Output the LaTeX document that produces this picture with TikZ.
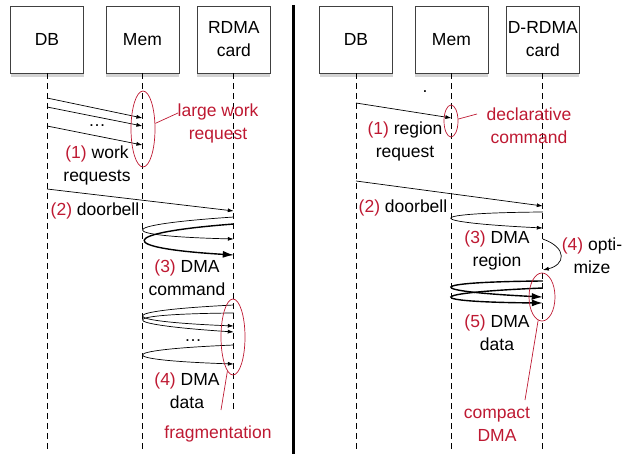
\documentclass[tikz,border=0pt]{standalone}
\usepackage{fontspec}
\setmainfont{Liberation Sans}
\usepackage{tikz}
\usetikzlibrary{positioning}
\usetikzlibrary{arrows.meta,shapes.geometric,shadows}
\definecolor{annot}{RGB}{190,25,50}

\begin{document}
\begin{tikzpicture}[x=1pt,y=-1pt,
    every node/.style={font=\fontsize{17.5}{23}\selectfont},
    actor/.style={draw=black!75,fill=white,minimum width=73pt,minimum height=67pt,inner sep=1pt,align=center,
      drop shadow={shadow xshift=0pt,shadow yshift=-4pt,opacity=.35}},
    lifeline/.style={dash pattern=on 6pt off 4pt,line width=.7pt},
    msg/.style={line width=.7pt,-{Latex[length=6pt,width=4pt]}},
    bigmsg/.style={line width=1.4pt,-{Latex[length=11pt,width=7pt]}},
    ring/.style={draw=annot,ellipse,inner sep=0pt,line width=.7pt},
    pointer/.style={draw=annot,line width=.7pt},
    txt/.style={align=center,inner sep=1pt}]
          \useasboundingbox (0,0) rectangle (631,454);

          \node[actor] (DBL) at (47,39.5) {DB};
          \node[actor,right=22pt of DBL] (MemL) {Mem};
          \node[actor,right=18pt of MemL] (CardL) {RDMA\\card};

          \node[actor] (DBR) at (356,39.5) {DB};
          \node[actor,right=22pt of DBR] (MemR) {Mem};
          \node[actor,right=18pt of MemR] (CardR) {D-RDMA\\card};

          \draw[lifeline] (DBL) -- (DBL |- 0,449);
          \draw[lifeline] (MemL) -- (MemL |- 0,449);
          \draw[lifeline] (CardL) -- (CardL |- 0,410);
          \draw[lifeline] (DBR) -- (DBR |- 0,449);
          \draw[lifeline] (MemR) -- (MemR |- 0,449);
          \draw[lifeline] (CardR) -- (CardR |- 0,449);

          \draw[line width=3pt] (293,5) -- (293,454);

          % RDMA
          \draw[msg] (DBL |- 0,98) -- (MemL |- 0,118);
          \draw[msg] (DBL |- 0,107) -- (MemL |- 0,126);
          \draw[msg] (DBL |- 0,126) -- (MemL |- 0,145);
          \node (dotsL1) at (97,126) {\dots};
          \draw[msg] (DBL |- 0,189) -- (CardL |- 0,211);
          \draw[msg] (CardL |- 0,217) .. controls (113,225) and (113,236) .. (CardL |- 0,239);
          \draw[bigmsg] (CardL |- 0,224) .. controls (116,233) and (116,248) .. (CardL |- 0,255);
          \draw[msg] (CardL |- 0,305) .. controls (113,311) and (113,321) .. (CardL |- 0,326);
          \draw[msg] (CardL |- 0,313) .. controls (113,314) and (113,324) .. (CardL |- 0,332);
          \node (dotsL2) at (193,341) {\dots};
          \draw[msg] (CardL |- 0,345) .. controls (113,350) and (113,360) .. (CardL |- 0,364);

          \node[txt] (reqL) at (97,165) {\textcolor{annot}{(1)} work\\requests};
          \node[txt] (bellL) at (95,211) {\textcolor{annot}{(2)} doorbell};
          \node[txt] (cmdL) at (187,278) {\textcolor{annot}{(3)} DMA\\command};
          \node[txt] (dataL) at (187,391) {\textcolor{annot}{(4)} DMA\\data};
          \node[txt,annot] (largeL) at (218,123) {large work\\request};
          \node[txt,annot] (fragL) at (218,434) {fragmentation};

          \node[ring,minimum width=24pt,minimum height=76pt] (ringL1) at (143,129) {};
          \node[ring,minimum width=24pt,minimum height=76pt] (ringL2) at (233,337) {};
          \coordinate (tipL1) at (178,113);
          \coordinate (tipL2) at (221,410);
          \draw[pointer] (ringL1) -- (tipL1);
          \draw[pointer] (ringL2) -- (tipL2);

          % D-RDMA
          \node[inner sep=0pt] (dotR) at (425,92) {.};
          \draw[msg] (DBR |- 0,103) -- (MemR |- 0,118);
          \draw[msg] (DBR |- 0,181) -- (CardR |- 0,206);
          \draw[msg] (CardR |- 0,212) .. controls (421,213) and (421,222) .. (CardR |- 0,228);
          \draw[msg] (CardR |- 0,239) .. controls (568,248) and (565,265) .. (CardR |- 0,270);
          \draw[bigmsg] (CardR |- 0,281) .. controls (422,282) and (422,291) .. (CardR |- 0,297);
          \draw[bigmsg] (CardR |- 0,288) .. controls (422,293) and (422,302) .. (CardR |- 0,303);

          \node[txt] (reqR) at (405,141) {\textcolor{annot}{(1)} region\\request};
          \node[txt] (bellR) at (403,208) {\textcolor{annot}{(2)} doorbell};
          \node[txt] (regR) at (497,250) {\textcolor{annot}{(3)} DMA\\region};
          \node[txt] (optR) at (592,256) {\textcolor{annot}{(4)} opti-\\mize};
          \node[txt] (dataR) at (497,333) {\textcolor{annot}{(5)} DMA\\data};
          \node[txt,annot] (declR) at (529,126) {declarative\\command};
          \node[txt,annot] (compR) at (497,424) {compact\\DMA};

          \node[ring,minimum width=14pt,minimum height=32pt] (ringR1) at (451,121) {};
          \node[ring,minimum width=26pt,minimum height=48pt] (ringR2) at (542,297) {};
          \coordinate (tipR1) at (477,114);
          \coordinate (tipR2) at (525,400);
          \draw[pointer] (ringR1) -- (tipR1);
          \draw[pointer] (ringR2) -- (tipR2);
        \end{tikzpicture}
\end{document}
